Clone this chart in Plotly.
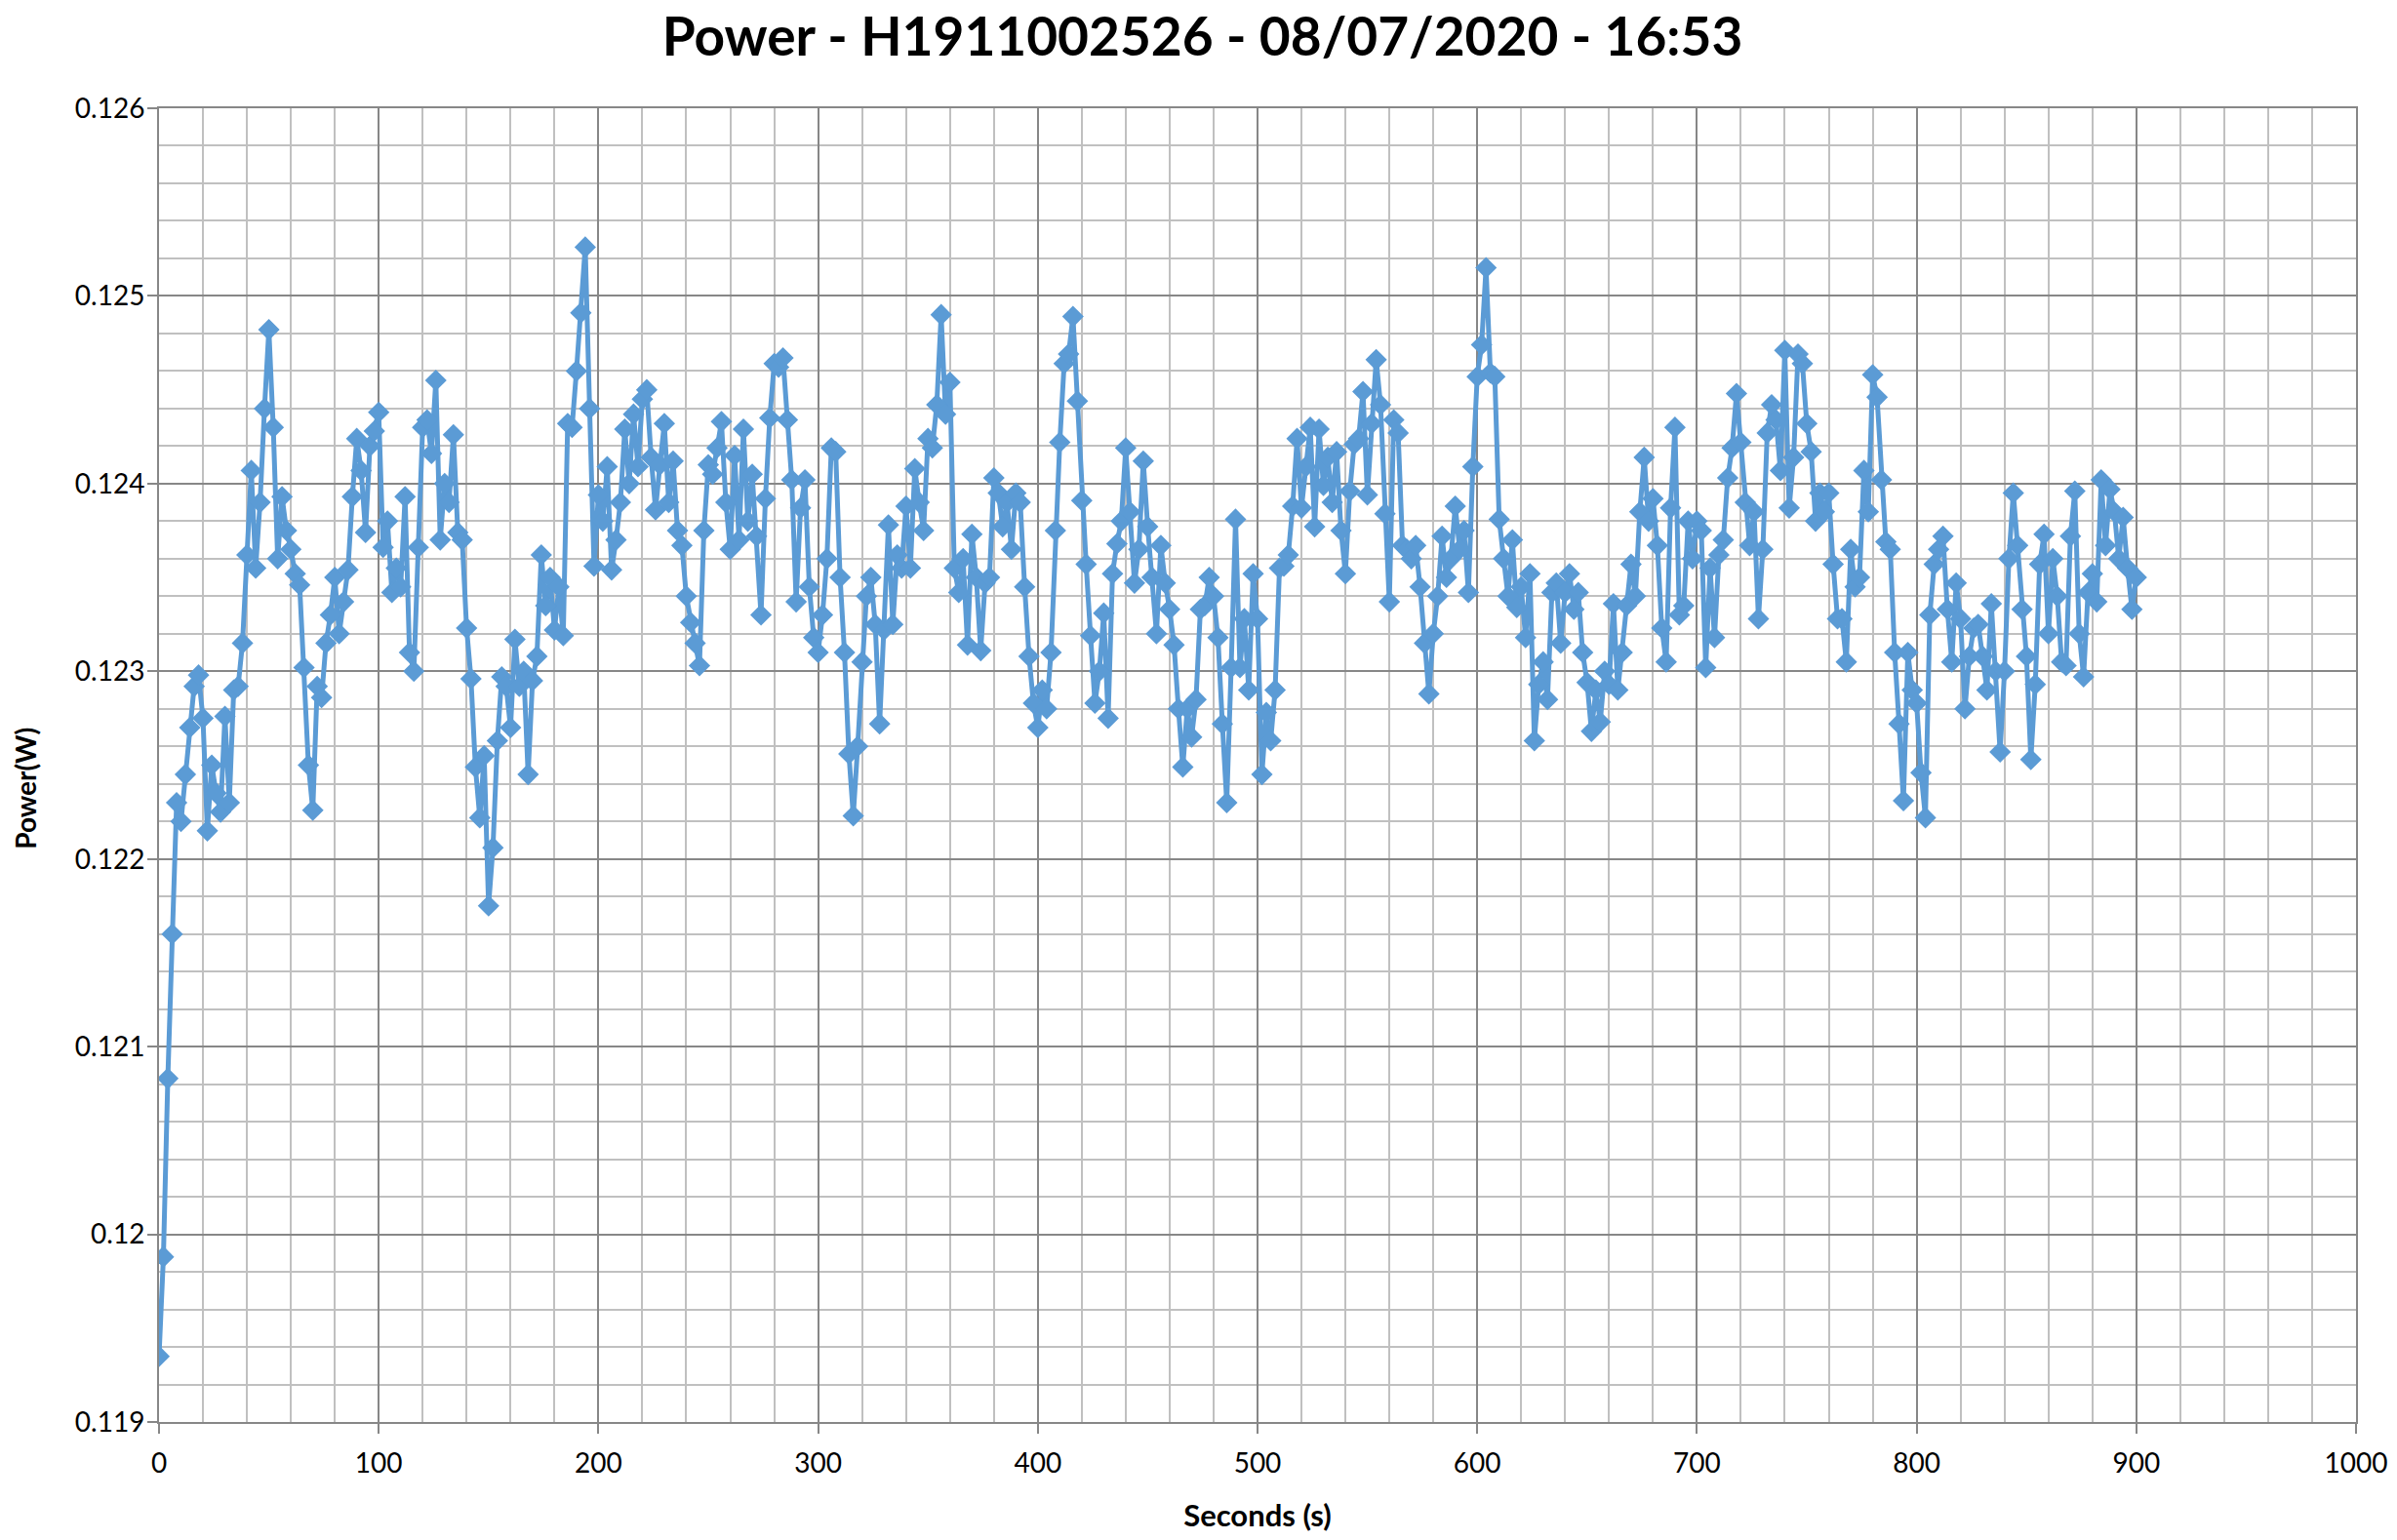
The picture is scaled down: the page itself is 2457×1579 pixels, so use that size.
import plotly.graph_objects as go

# ---- data (power in mW, sampled every 2 s) ----
p_000 = [119.35, 119.88, 120.83, 121.60, 122.30, 122.20, 122.45, 122.70, 122.92, 122.98,
         122.75, 122.15, 122.50, 122.35, 122.25, 122.76, 122.30, 122.90, 122.92, 123.15,
         123.62, 124.07, 123.55, 123.90, 124.40, 124.82, 124.30, 123.60, 123.93, 123.75,
         123.65, 123.52, 123.46, 123.02, 122.50, 122.26, 122.92, 122.86, 123.15, 123.30,
         123.50, 123.20, 123.37, 123.54, 123.93, 124.24, 124.07, 123.74, 124.20, 124.28]
p_100 = [124.38, 123.66, 123.80, 123.42, 123.55, 123.45, 123.93, 123.10, 123.00, 123.66,
         124.30, 124.34, 124.16, 124.55, 123.70, 124.00, 123.90, 124.26, 123.74, 123.70,
         123.23, 122.96, 122.49, 122.22, 122.55, 121.75, 122.06, 122.63, 122.97, 122.92,
         122.70, 123.17, 122.92, 123.00, 122.45, 122.95, 123.08, 123.62, 123.35, 123.50,
         123.22, 123.45, 123.19, 124.32, 124.30, 124.60, 124.91, 125.26, 124.40, 123.56]
p_200 = [123.94, 123.80, 124.09, 123.54, 123.70, 123.90, 124.29, 124.00, 124.37, 124.09,
         124.45, 124.50, 124.14, 123.86, 124.10, 124.32, 123.90, 124.12, 123.75, 123.67,
         123.40, 123.26, 123.15, 123.03, 123.75, 124.10, 124.05, 124.19, 124.33, 123.90,
         123.65, 124.15, 123.70, 124.29, 123.80, 124.05, 123.72, 123.30, 123.92, 124.35,
         124.64, 124.62, 124.67, 124.34, 124.02, 123.37, 123.87, 124.02, 123.45, 123.18]
p_300 = [123.10, 123.30, 123.60, 124.19, 124.17, 123.50, 123.10, 122.56, 122.23, 122.60,
         123.05, 123.40, 123.50, 123.25, 122.72, 123.22, 123.78, 123.25, 123.62, 123.55,
         123.88, 123.55, 124.08, 123.90, 123.75, 124.24, 124.19, 124.42, 124.90, 124.37,
         124.54, 123.55, 123.42, 123.60, 123.14, 123.73, 123.50, 123.11, 123.47, 123.50,
         124.03, 123.95, 123.77, 123.90, 123.65, 123.95, 123.90, 123.45, 123.08, 122.83]
p_400 = [122.70, 122.90, 122.80, 123.10, 123.75, 124.22, 124.64, 124.69, 124.89, 124.44,
         123.91, 123.57, 123.19, 122.83, 123.00, 123.31, 122.75, 123.52, 123.68, 123.80,
         124.19, 123.85, 123.47, 123.65, 124.12, 123.77, 123.50, 123.20, 123.67, 123.47,
         123.33, 123.14, 122.80, 122.49, 122.80, 122.65, 122.85, 123.33, 123.35, 123.50,
         123.40, 123.18, 122.72, 122.30, 123.02, 123.81, 123.02, 123.28, 122.90, 123.52]
p_500 = [123.28, 122.45, 122.78, 122.63, 122.90, 123.55, 123.56, 123.62, 123.88, 124.24,
         123.87, 124.09, 124.30, 123.77, 124.29, 123.99, 124.14, 123.90, 124.17, 123.75,
         123.52, 123.96, 124.21, 124.24, 124.49, 123.94, 124.32, 124.66, 124.42, 123.84,
         123.37, 124.34, 124.27, 123.67, 123.65, 123.60, 123.67, 123.45, 123.15, 122.88,
         123.20, 123.40, 123.72, 123.50, 123.60, 123.88, 123.65, 123.75, 123.42, 124.09]
p_600 = [124.57, 124.74, 125.15, 124.59, 124.57, 123.81, 123.60, 123.40, 123.70, 123.34,
         123.45, 123.18, 123.52, 122.63, 122.93, 123.05, 122.85, 123.42, 123.47, 123.15,
         123.42, 123.52, 123.33, 123.42, 123.10, 122.94, 122.68, 122.90, 122.73, 123.00,
         122.93, 123.36, 122.90, 123.10, 123.35, 123.57, 123.40, 123.85, 124.14, 123.80,
         123.92, 123.67, 123.23, 123.05, 123.87, 124.30, 123.30, 123.35, 123.80, 123.60]
p_700 = [123.80, 123.75, 123.02, 123.55, 123.18, 123.62, 123.70, 124.03, 124.19, 124.48,
         124.22, 123.90, 123.67, 123.85, 123.28, 123.65, 124.27, 124.42, 124.34, 124.07,
         124.71, 123.87, 124.14, 124.69, 124.64, 124.32, 124.17, 123.80, 123.95, 123.85,
         123.95, 123.57, 123.28, 123.28, 123.05, 123.65, 123.45, 123.50, 124.07, 123.85,
         124.58, 124.46, 124.02, 123.69, 123.65, 123.10, 122.72, 122.31, 123.10, 122.90]
p_800 = [122.83, 122.46, 122.22, 123.30, 123.57, 123.65, 123.72, 123.33, 123.05, 123.47,
         123.28, 122.80, 123.08, 123.23, 123.25, 123.08, 122.90, 123.36, 123.00, 122.57,
         123.00, 123.60, 123.95, 123.67, 123.33, 123.08, 122.53, 122.93, 123.57, 123.73,
         123.20, 123.60, 123.40, 123.05, 123.03, 123.72, 123.96, 123.20, 122.97, 123.42,
         123.52, 123.37, 124.02, 123.67, 123.97, 123.85, 123.60, 123.82, 123.55, 123.33,
         123.50]

power_mw = p_000 + p_100 + p_200 + p_300 + p_400 + p_500 + p_600 + p_700 + p_800
seconds = list(range(0, 2 * len(power_mw), 2))
power_w = [v / 1000.0 for v in power_mw]

x_tick_vals = [0, 100, 200, 300, 400, 500, 600, 700, 800, 900, 1000]
x_tick_text = ["0", "100", "200", "300", "400", "500", "600", "700", "800", "900", "1000"]
y_tick_vals = [0.119, 0.120, 0.121, 0.122, 0.123, 0.124, 0.125, 0.126]
y_tick_text = ["0.119", "0.12", "0.121", "0.122", "0.123", "0.124", "0.125", "0.126"]

TITLE = "Power - H1911002526 - 08/07/2020 - 16:53"
X_TITLE = "Seconds (s)"
Y_TITLE = "Power(W)"
LINE_COLOR = "#5B9BD5"
MAJOR = "#878787"
MINOR = "#C0C0C0"
FONT = "Lato"

W, H = 2449, 1571

fig = go.Figure()
fig.add_trace(go.Scatter(
    x=seconds, y=power_w, mode="lines+markers",
    line=dict(color=LINE_COLOR, width=5),
    marker=dict(symbol="diamond", size=17, color=LINE_COLOR),
    showlegend=False,
))

fig.update_layout(
    width=W, height=H,
    paper_bgcolor="white", plot_bgcolor="white",
    margin=dict(l=155, r=42, t=103, b=121, autoexpand=False),
    title=dict(text="<b>" + TITLE + "</b>", x=0.5, xanchor="center",
               yref="container", y=1 - 30 / H, yanchor="middle",
               font=dict(family=FONT, size=55, color="black")),
    font=dict(family=FONT, color="black"),
    annotations=[dict(
        text="<b>" + Y_TITLE + "</b>", textangle=-90,
        xref="paper", yref="paper", x=0, y=0.482,
        xanchor="center", yanchor="middle", xshift=-137,
        showarrow=False, font=dict(family=FONT, size=28, color="black"),
    )],
)

fig.update_xaxes(
    range=[0, 1000], tickvals=x_tick_vals, ticktext=x_tick_text,
    showgrid=True, gridcolor=MAJOR, gridwidth=2,
    minor=dict(dtick=20, showgrid=True, gridcolor=MINOR, gridwidth=2, ticks=""),
    showline=True, linecolor=MAJOR, linewidth=2, mirror=True,
    ticks="outside", ticklen=10, tickwidth=2, tickcolor=MAJOR,
    tickfont=dict(family=FONT, size=28, color="black"),
    ticklabelstandoff=6,
    zeroline=False, automargin=False,
    title=dict(text="<b>" + X_TITLE + "</b>", font=dict(family=FONT, size=31, color="black"),
               standoff=29),
)
fig.update_yaxes(
    range=[0.119, 0.126], tickvals=y_tick_vals, ticktext=y_tick_text,
    showgrid=True, gridcolor=MAJOR, gridwidth=2,
    minor=dict(dtick=0.0002, showgrid=True, gridcolor=MINOR, gridwidth=2, ticks=""),
    showline=True, linecolor=MAJOR, linewidth=2, mirror=True,
    ticks="outside", ticklen=10, tickwidth=2, tickcolor=MAJOR,
    tickfont=dict(family=FONT, size=28, color="black"),
    ticklabelstandoff=-3,
    zeroline=False, automargin=False,
)

fig.write_html("out.html")
